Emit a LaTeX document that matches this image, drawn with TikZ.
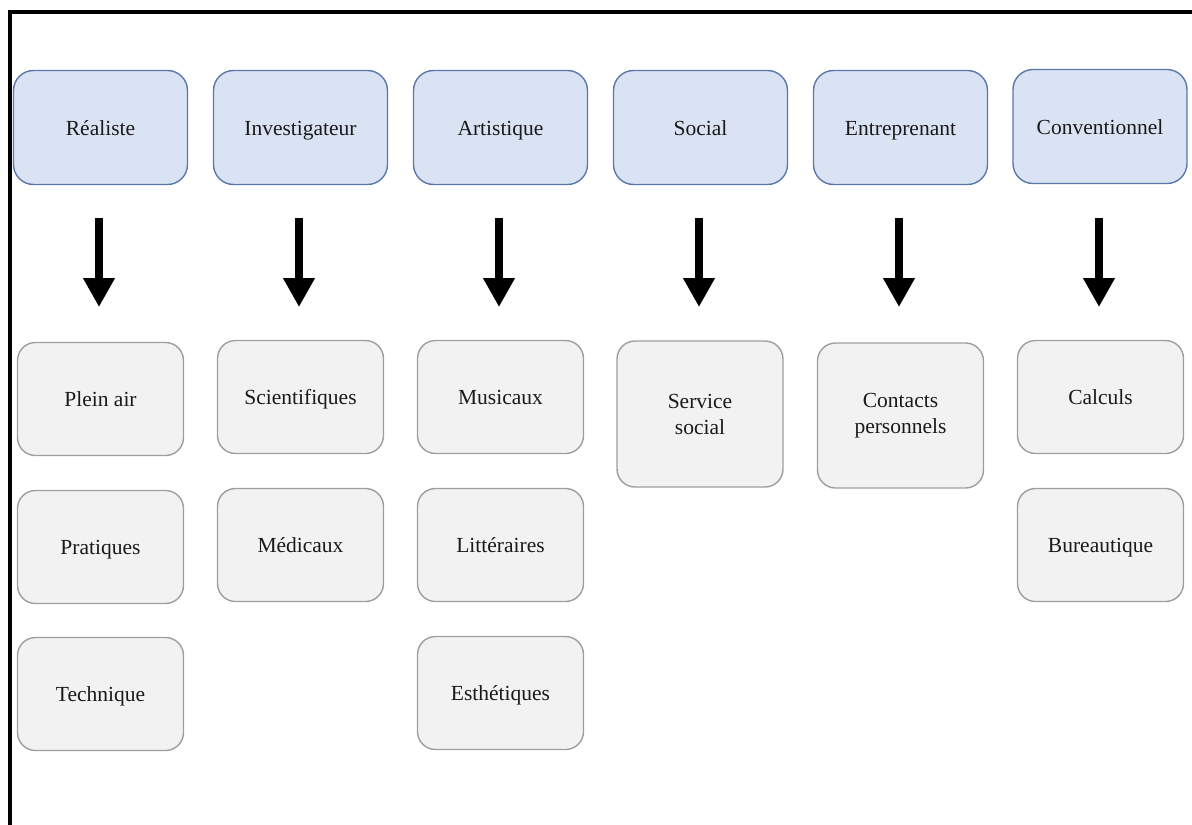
\documentclass[tikz,border=0pt]{standalone}
\usepackage{fontspec}
\setmainfont{Liberation Serif}
\usetikzlibrary{arrows.meta}
\definecolor{topfill}{HTML}{DAE3F3}
\definecolor{topdraw}{HTML}{5A78A8}
\definecolor{subfill}{HTML}{F2F2F2}
\definecolor{subdraw}{HTML}{9E9E9E}
\definecolor{txt}{HTML}{1A1A1A}
\begin{document}
\begin{tikzpicture}[x=1pt,y=-1pt,
  topbox/.style={draw=topdraw, fill=topfill, line width=1.4pt, rounded corners=20pt,
    minimum width=174pt, minimum height=114pt, text=txt, text height=15pt, text depth=0pt,
    font=\fontsize{21.5}{26}\selectfont},
  subbox/.style={draw=subdraw, fill=subfill, line width=1.4pt, rounded corners=18pt,
    minimum width=166pt, minimum height=113pt, text=txt, text height=15pt, text depth=0pt,
    font=\fontsize{21.5}{26}\selectfont},
  twoline/.style={text height=, text depth=, align=center},
  bigarrow/.style={line width=8pt, -{Triangle[length=29pt,width=30pt]}},
  frame/.style={line width=4pt, black}
]
\useasboundingbox (0,0) rectangle (1192,825);
% frame
\coordinate (fr0) at (10,825);
\coordinate (fr1) at (10,12);
\coordinate (fr2) at (1192,12);
\draw[frame] (fr0) -- (fr1) -- (fr2);

% top boxes
\node[topbox] (t1) at (100.5,127.5) {Réaliste};
\node[topbox] (t2) at (300.5,127.5) {Investigateur};
\node[topbox] (t3) at (500.5,127.5) {Artistique};
\node[topbox] (t4) at (700.5,127.5) {Social};
\node[topbox] (t5) at (900.5,127.5) {Entreprenant};
\node[topbox] (t6) at (1100,126.5) {Conventionnel};

% arrows
\foreach \i/\x in {1/99,2/299,3/499,4/699,5/899,6/1099}{
  \coordinate (as\i) at (\x,218);
  \coordinate (ae\i) at (\x,307);
  \draw[bigarrow] (as\i) -- (ae\i);
}

% column 1
\node[subbox] (r1) at (100.5,399) {Plein air};
\node[subbox] (r2) at (100.5,547) {Pratiques};
\node[subbox] (r3) at (100.5,694) {Technique};
% column 2
\node[subbox] (i1) at (300.5,397) {Scientifiques};
\node[subbox] (i2) at (300.5,545) {Médicaux};
% column 3
\node[subbox] (a1) at (500.5,397) {Musicaux};
\node[subbox] (a2) at (500.5,545) {Littéraires};
\node[subbox] (a3) at (500.5,693) {Esthétiques};
% column 4
\node[subbox, twoline, minimum height=146pt] (s1) at (700,414) {Service\\social};
% column 5
\node[subbox, twoline, minimum height=145pt] (e1) at (900.5,415.5) {Contacts\\personnels};
% column 6
\node[subbox] (c1) at (1100.5,397) {Calculs};
\node[subbox] (c2) at (1100.5,545) {Bureautique};
\end{tikzpicture}
\end{document}
